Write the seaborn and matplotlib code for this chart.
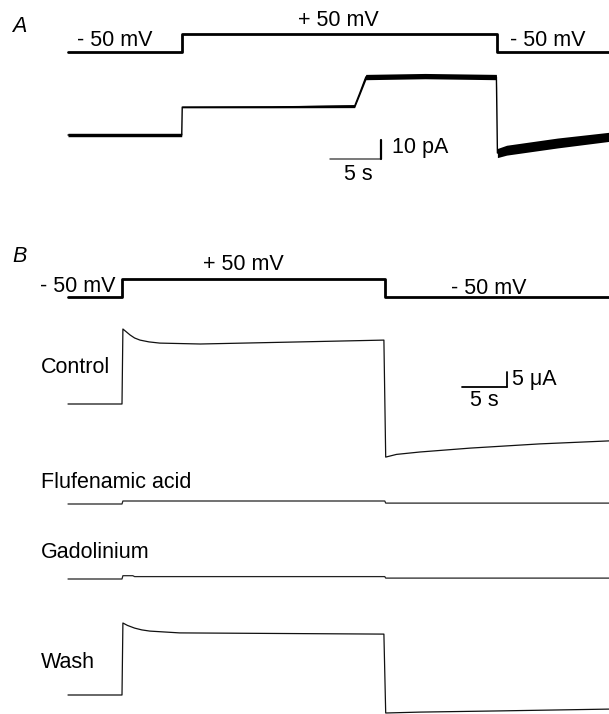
import matplotlib
matplotlib.use("Agg")
import matplotlib.pyplot as plt
import seaborn as sns

# ---- data ----
# Panel A: single channel recording (time in s, current in pA, voltage in mV)
a_volt_t = [0, 11.2, 11.2, 42.1, 42.1, 53.0]
a_volt_mv = [-50, -50, 50, 50, -50, -50]
a_cur_t = [0, 11.15, 11.2, 20.0, 28.1, 28.6, 29.2, 35.0, 42.0, 42.1, 43.0, 48.0, 53.0]
a_cur_pa = [0, 0, 14.7, 14.8, 15.2, 22.0, 30.5, 31.0, 30.5, -9.5, -8.0, -4.2, -1.0]
a_noise_pa = [0.9, 0.9, 0.4, 0.5, 0.8, 1.0, 1.4, 1.4, 1.4, 2.4, 2.6, 2.6, 2.4]

# Panel B: whole-cell currents (time in s, current in uA)
b_volt_t = [0, 6.05, 6.05, 35.2, 35.2, 60.1]
b_volt_mv = [-50, -50, 50, 50, -50, -50]
ctrl_t = [0, 6.0, 6.1, 6.5, 6.9, 7.4, 8.0, 9.0, 10.2, 14.7, 25.8, 35.1, 35.3, 36.5, 39.1, 44.7, 52.4, 60.1]
ctrl_ua = [0, 0, 25.0, 24.0, 23.0, 22.0, 21.3, 20.7, 20.3, 20.0, 20.7, 21.3, -17.7, -16.8, -16.0, -14.7, -13.3, -12.3]
flu_t = [0, 6.0, 6.1, 35.2, 35.3, 60.1]
flu_ua = [0, 0, 1.0, 1.0, 0.3, 0.3]
gad_t = [0, 6.0, 6.1, 7.2, 7.4, 35.2, 35.3, 60.1]
gad_ua = [0, 0, 1.1, 1.1, 0.8, 0.8, 0.3, 0.3]
wash_t = [0, 6.0, 6.1, 6.6, 7.4, 8.2, 9.1, 12.4, 35.1, 35.3, 39.1, 48.0, 60.1]
wash_ua = [0, 0, 24.0, 23.2, 22.3, 21.7, 21.3, 20.7, 20.3, -6.0, -5.7, -5.3, -4.7]

W, H = 609, 714

sns.set_style("white")
plt.rcParams["font.family"] = ["Liberation Sans", "DejaVu Sans"]

fig = plt.figure(figsize=(W / 100, H / 100), dpi=100)
fig.patch.set_facecolor("white")


def trace_ax(px_per_s, y_zero, px_per_unit, x_zero=68):
    # transparent full-figure axes: t=0 at x_zero px, value 0 at y_zero px
    ax = fig.add_axes([0, 0, 1, 1])
    ax.set_xlim(-x_zero / px_per_s, (W - x_zero) / px_per_s)
    ax.set_ylim((y_zero - H) / px_per_unit, y_zero / px_per_unit)
    ax.axis("off")
    ax.patch.set_visible(False)
    return ax


def label(x, y, s, size=15.5, **kw):
    fig.text(x / W, 1 - y / H, s, fontsize=size, va="center", color="black", **kw)


def trace(ax, t, v, lw, color="black"):
    sns.lineplot(x=t, y=v, ax=ax, color=color, lw=lw, estimator=None, sort=False)


# ---- panel A ----
ax_av = trace_ax(10.2, 43, 0.18)
trace(ax_av, a_volt_t, a_volt_mv, 2.0)

ax_ai = trace_ax(10.2, 135, 1.9)
lo = [c - n for c, n in zip(a_cur_pa, a_noise_pa)]
hi = [c + n for c, n in zip(a_cur_pa, a_noise_pa)]
ax_ai.fill_between(a_cur_t, lo, hi, color="black", lw=0)
trace(ax_ai, a_cur_t, a_cur_pa, 1.0)
# scale bar 5 s / 10 pA
ax_ai.plot([25.7, 30.7], [-12.6, -12.6], color="#555555", lw=1.1)
ax_ai.plot([30.7, 30.7], [-12.6, -2.6], color="black", lw=1.6)

label(12, 27, "A", style="italic")
label(338, 21, "+ 50 mV", ha="center")
label(115, 40, "- 50 mV", ha="center")
label(548, 40, "- 50 mV", ha="center")
label(420, 148, "10 pA", ha="center")
label(358, 174, "5 s", ha="center")

# ---- panel B ----
ax_bv = trace_ax(9.0, 288, 0.18)
trace(ax_bv, b_volt_t, b_volt_mv, 2.0)

ax_c = trace_ax(9.0, 404, 3.0)
trace(ax_c, ctrl_t, ctrl_ua, 0.9, "#111111")
ax_f = trace_ax(9.0, 504, 3.0)
trace(ax_f, flu_t, flu_ua, 0.9, "#222222")
ax_g = trace_ax(9.0, 579, 3.0)
trace(ax_g, gad_t, gad_ua, 0.9, "#222222")
ax_w = trace_ax(9.0, 695, 3.0)
trace(ax_w, wash_t, wash_ua, 0.9, "#111111")

# scale bar 5 s / 5 uA
ax_c.plot([43.8, 48.8], [5.7, 5.7], color="black", lw=1.3)
ax_c.plot([48.8, 48.8], [5.7, 10.7], color="black", lw=1.3)

label(12, 256, "B", style="italic")
label(78, 287, "- 50 mV", ha="center")
label(243, 265, "+ 50 mV", ha="center")
label(489, 288, "- 50 mV", ha="center")
label(41, 368, "Control")
label(534, 380, "5 \u03bcA", ha="center")
label(484, 400, "5 s", ha="center")
label(41, 483, "Flufenamic acid")
label(41, 552, "Gadolinium")
label(41, 663, "Wash")

fig.savefig("out.png", dpi=100)
